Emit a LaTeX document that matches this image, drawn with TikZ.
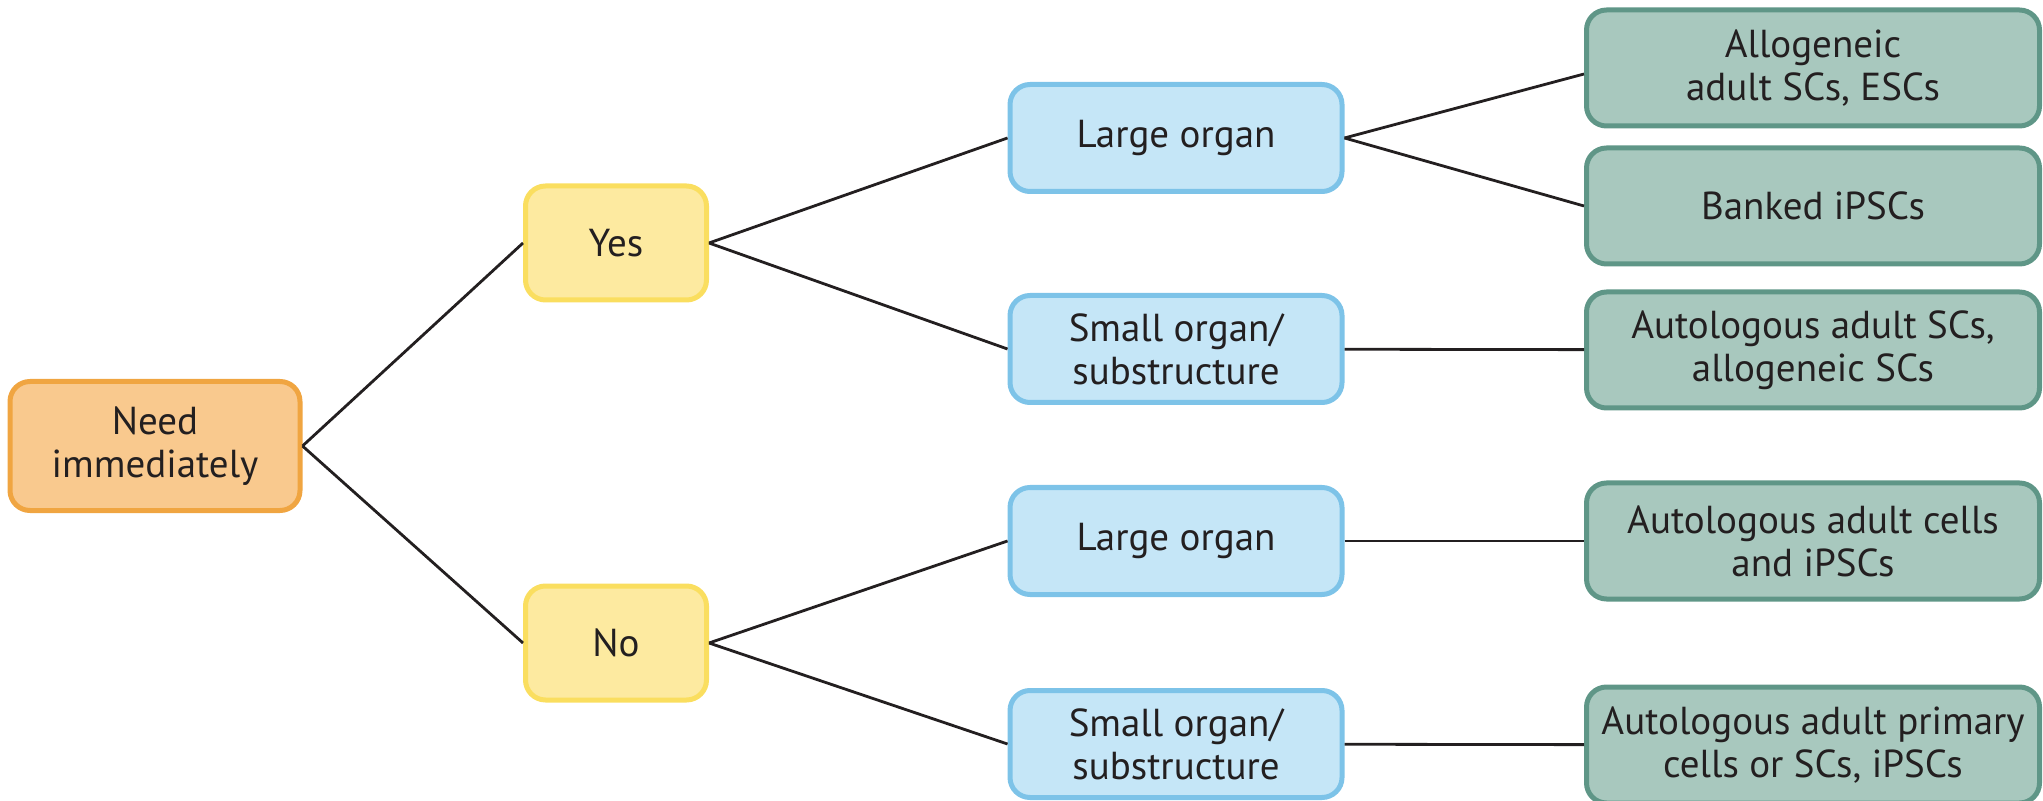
\documentclass[tikz,border=0pt]{standalone}
\usepackage{fontspec}
\setmainfont{PT Sans}
\usetikzlibrary{positioning}
\definecolor{needfill}{RGB}{249,201,142}
\definecolor{needline}{RGB}{240,165,65}
\definecolor{ansfill}{RGB}{253,234,160}
\definecolor{ansline}{RGB}{250,222,95}
\definecolor{organfill}{RGB}{197,230,247}
\definecolor{organline}{RGB}{125,195,232}
\definecolor{cellfill}{RGB}{168,200,190}
\definecolor{cellline}{RGB}{95,150,135}
\definecolor{inkdark}{RGB}{35,31,32}

\begin{document}
\begin{tikzpicture}[
      x=0.5pt, y=-0.5pt,
      box/.style={rounded corners=10pt, line width=2.5pt, align=center, inner sep=0pt,
        text=inkdark, font=\fontsize{19.5}{21.5}\selectfont},
      needbox/.style={box, fill=needfill, draw=needline, minimum width=145pt, minimum height=64.5pt},
      answerbox/.style={box, fill=ansfill, draw=ansline, minimum width=90.5pt, minimum height=57pt},
      organbox/.style={box, fill=organfill, draw=organline, minimum width=166pt, minimum height=53.5pt},
      cellbox/.style={box, fill=cellfill, draw=cellline, minimum width=226.5pt, minimum height=58pt},
      link/.style={line width=1.4pt, draw=inkdark}
    ]
      \useasboundingbox (0,0) rectangle (2043,801);
      \node[needbox] (ni) at (155,446) {Need\\immediately};
      \node[answerbox] (yes) at (616,243) {Yes};
      \node[answerbox] (no) at (616,643) {No};
      \node[organbox] (yl) at (1176,138) {Large organ};
      \node[organbox] (ys) at (1176,349) {Small organ/\\substructure};
      \node[organbox] (nl) at (1176,541) {Large organ};
      \node[organbox] (ns) at (1176,744) {Small organ/\\substructure};
      \node[cellbox] (c1) at (1813,68) {Allogeneic\\adult SCs, ESCs};
      \node[cellbox] (c2) at (1813,206) {Banked iPSCs};
      \node[cellbox] (c3) at (1813,350) {Autologous adult SCs,\\allogeneic SCs};
      \node[cellbox] (c4) at (1813,541) {Autologous adult cells\\and iPSCs};
      \node[cellbox] (c5) at (1813,745) {Autologous adult primary\\cells or SCs, iPSCs};
      \draw[link] (ni.east) -- (yes.west);
      \draw[link] (ni.east) -- (no.west);
      \draw[link] (yes.east) -- (yl.west);
      \draw[link] (yes.east) -- (ys.west);
      \draw[link] (no.east) -- (nl.west);
      \draw[link] (no.east) -- (ns.west);
      \draw[link] (yl.east) -- ([yshift=-3pt]c1.west);
      \draw[link] (yl.east) -- (c2.west);
      \draw[link] (ys) -- (c3);
      \draw[link] (nl) -- (c4);
      \draw[link] (ns) -- (c5);
    \end{tikzpicture}
\end{document}
